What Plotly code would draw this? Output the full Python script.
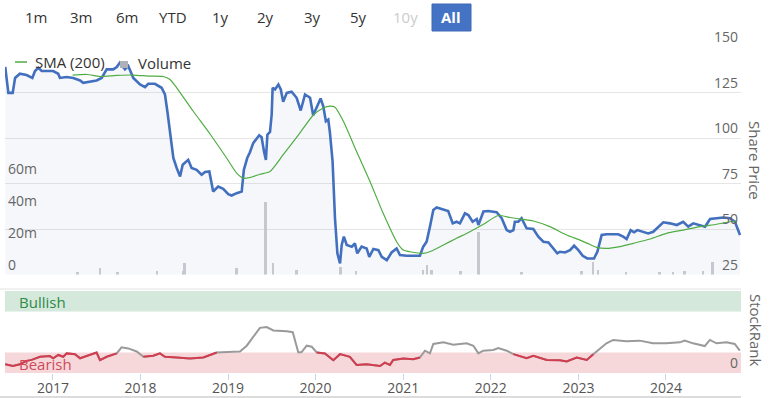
import plotly.graph_objects as go

# ---------------- data ----------------
price_dates = [
    "2016-06-16", "2016-06-29", "2016-07-17", "2016-07-27", "2016-08-16", "2016-09-13", "2016-10-07",
    "2016-10-18", "2016-11-01", "2016-11-15", "2017-01-02", "2017-01-23", "2017-01-30", "2017-02-27",
    "2017-03-27", "2017-04-24", "2017-05-07", "2017-06-04", "2017-07-02", "2017-07-23", "2017-08-13",
    "2017-09-09", "2017-09-24", "2017-10-07", "2017-10-28", "2017-11-11", "2017-12-02", "2017-12-30",
    "2018-01-20", "2018-02-02", "2018-03-02", "2018-03-30", "2018-04-13", "2018-04-23", "2018-05-04",
    "2018-05-18", "2018-06-01", "2018-06-15", "2018-06-26", "2018-07-05", "2018-07-19", "2018-08-02",
    "2018-08-23", "2018-09-13", "2018-09-27", "2018-10-15", "2018-10-31", "2018-11-21", "2018-12-12",
    "2019-01-02", "2019-01-16", "2019-02-06", "2019-02-27", "2019-03-08", "2019-03-22", "2019-04-02",
    "2019-04-16", "2019-05-11", "2019-05-21", "2019-05-31", "2019-06-08", "2019-06-14", "2019-06-25",
    "2019-07-02", "2019-07-06", "2019-07-16", "2019-07-30", "2019-08-09", "2019-08-19", "2019-09-03",
    "2019-09-23", "2019-10-14", "2019-10-31", "2019-11-18", "2019-12-09", "2019-12-22", "2020-01-06",
    "2020-01-22", "2020-02-02", "2020-02-13", "2020-02-23", "2020-03-01", "2020-03-12", "2020-03-22",
    "2020-04-01", "2020-04-12", "2020-04-19", "2020-04-28", "2020-05-10", "2020-05-31", "2020-06-13",
    "2020-06-23", "2020-07-11", "2020-08-01", "2020-08-12", "2020-08-29", "2020-09-19", "2020-10-03",
    "2020-10-24", "2020-11-13", "2020-12-04", "2020-12-18", "2021-01-15", "2021-03-11", "2021-03-25",
    "2021-04-08", "2021-04-22", "2021-05-06", "2021-05-20", "2021-06-17", "2021-07-07", "2021-07-26",
    "2021-08-11", "2021-08-25", "2021-09-15", "2021-09-29", "2021-10-17", "2021-11-03", "2021-11-10",
    "2021-12-01", "2021-12-21", "2022-01-25", "2022-02-15", "2022-03-08", "2022-03-22", "2022-04-05",
    "2022-04-11", "2022-04-25", "2022-05-09", "2022-05-30", "2022-06-27", "2022-07-18", "2022-08-08",
    "2022-08-29", "2022-09-16", "2022-10-05", "2022-10-16", "2022-11-06", "2022-11-27", "2022-12-14",
    "2023-01-01", "2023-01-19", "2023-02-07", "2023-03-07", "2023-03-21", "2023-04-08", "2023-04-29",
    "2023-06-16", "2023-07-07", "2023-07-21", "2023-08-07", "2023-08-21", "2023-09-04", "2023-09-29",
    "2023-10-19", "2023-11-09", "2023-12-04", "2023-12-21", "2024-01-18", "2024-02-15", "2024-03-13",
    "2024-04-03", "2024-04-24", "2024-05-22", "2024-06-12", "2024-07-03", "2024-07-31", "2024-08-27",
    "2024-09-24", "2024-10-15", "2024-10-25", "2024-11-05",
]
price_values = [
    139, 124.8, 124.8, 133, 135.3, 134.6, 133,
    136.8, 138.6, 136.8, 136.8, 135.3, 133, 133.5,
    133, 131.6, 130.3, 130.9, 131.6, 133, 137.7,
    137.7, 139, 141.4, 137.7, 139.5, 133, 129.4,
    127.9, 129.8, 129.8, 127.6, 123.9, 114.7, 103.7,
    89, 83.5, 78.9, 85.3, 86.2, 88, 83.5,
    82.5, 79.8, 81.3, 81.6, 70.6, 73.3, 72.1,
    69.1, 68.4, 69.7, 70.6, 82.5, 89, 92,
    97.2, 101.5, 100.4, 92.6, 88, 101.8, 103.3,
    112.9, 127.6, 126.7, 129.4, 126.7, 119.9, 124.8,
    125.4, 122.1, 115.1, 123.9, 122.1, 112.5, 116.5,
    121.7, 117.5, 109.2, 110.1, 102.8, 87.1, 55.9,
    36.6, 31.1, 41.2, 45.8, 41.2, 40.3, 42.1,
    36.6, 40.3, 39.3, 34.7, 39, 38.4, 34.7,
    32.9, 37.1, 39.3, 35.7, 35.3, 35.3, 40.3,
    43, 51.3, 60.5, 61.8, 60.5, 59.9, 53.1,
    54, 53.1, 58.6, 57.7, 54, 55.5, 52.2,
    59.6, 59.9, 59.2, 55.9, 49.4, 48.5, 49.4,
    54, 54, 55.9, 50.4, 50, 45.8, 43,
    42.6, 39.7, 36.6, 37.5, 37.1, 38.4, 40.8,
    38.4, 35.3, 33.8, 33.8, 37.5, 46.7, 47.1,
    47.1, 45.8, 44.5, 49.4, 48.2, 49.4, 48.5,
    47.6, 48.5, 51.3, 53.7, 53.1, 52.2, 54,
    51.3, 53.1, 52.2, 51.3, 55.5, 55.9, 56.3,
    55.9, 54, 50.4, 46.7,
]

sma_dates = [
    "2017-03-24", "2017-05-22", "2017-07-16", "2017-09-24", "2017-12-02", "2018-02-09", "2018-04-06",
    "2018-05-04", "2018-06-01", "2018-08-09", "2018-10-18", "2018-12-26", "2019-02-06", "2019-03-06",
    "2019-04-02", "2019-05-14", "2019-06-25", "2019-08-19", "2019-10-28", "2019-12-22", "2020-02-02",
    "2020-03-01", "2020-03-22", "2020-04-26", "2020-06-20", "2020-08-15", "2020-10-09", "2020-12-04",
    "2021-01-01", "2021-01-29", "2021-03-25", "2021-04-29", "2021-06-17", "2021-08-11", "2021-10-06",
    "2021-12-01", "2022-02-01", "2022-03-22", "2022-05-03", "2022-06-27", "2022-09-04", "2022-11-13",
    "2023-01-08", "2023-02-18", "2023-03-18", "2023-04-29", "2023-06-23", "2023-08-18", "2023-10-27",
    "2024-01-03", "2024-03-13", "2024-05-22", "2024-07-31", "2024-09-24", "2024-10-22",
]
sma_values = [
    134.6, 134.9, 133.8, 134.4, 134.6, 134, 133.8,
    132.2, 127.6, 114.7, 102.2, 89, 80.7, 77.9,
    78.3, 80.1, 81.6, 90.8, 102.8, 112.5, 116.5,
    117.5, 116.9, 109.2, 92.6, 76.1, 58.6, 43,
    38.4, 37.5, 36.6, 37.9, 41.2, 44.9, 48.5,
    52.6, 57.4, 56.3, 55.5, 54.4, 51.3, 46.7,
    43.9, 41.5, 39.9, 39.3, 40.3, 42.1, 44.5,
    47.6, 49.4, 51.3, 52.6, 54, 54.4,
]

volume_dates = [
    "2017-04-15", "2017-07-16", "2017-09-29", "2018-03-11", "2018-06-28", "2018-07-05", "2019-02-07",
    "2019-06-08", "2019-07-09", "2019-10-14", "2020-04-15", "2020-06-18", "2021-03-24", "2021-04-10",
    "2021-04-30", "2021-08-28", "2021-11-11", "2022-05-09", "2023-01-15", "2023-03-04", "2023-03-25",
    "2023-07-20", "2023-12-07", "2024-02-01", "2024-03-19", "2024-06-04", "2024-07-15",
]
volume_values = [
    1.3e6, 4.4e6, 1.5e6, 2.0e6, 2.5e6, 7.0e6, 4.2e6,
    46e6, 7.0e6, 3.0e6, 5.0e6, 2.0e6, 3.0e6, 6.0e6,
    3.0e6, 2.0e6, 27e6, 1.3e6, 2.5e6, 8.0e6, 3.0e6,
    1.3e6, 1.3e6, 1.3e6, 2.0e6, 2.0e6, 8.0e6,
]

rank_dates = [
    "2016-06-16", "2016-07-18", "2016-08-16", "2016-09-13", "2016-10-04", "2016-11-08", "2016-12-19",
    "2017-01-02", "2017-01-23", "2017-02-13", "2017-02-27", "2017-04-03", "2017-04-24", "2017-05-22",
    "2017-07-02", "2017-07-16", "2017-08-13", "2017-09-24", "2017-10-14", "2017-11-11", "2017-12-16",
    "2018-01-13", "2018-02-23", "2018-03-23", "2018-04-13", "2018-06-01", "2018-07-26", "2018-09-20",
    "2018-11-15", "2019-01-23", "2019-02-20", "2019-03-20", "2019-04-16", "2019-05-14", "2019-06-11",
    "2019-07-09", "2019-09-03", "2019-09-28", "2019-10-21", "2019-11-04", "2019-11-25", "2019-12-16",
    "2020-01-06", "2020-02-09", "2020-03-15", "2020-04-12", "2020-05-23", "2020-06-20", "2020-08-01",
    "2020-09-26", "2020-10-16", "2020-11-06", "2020-11-20", "2021-01-01", "2021-02-11", "2021-03-11",
    "2021-04-01", "2021-04-22", "2021-05-06", "2021-06-17", "2021-07-28", "2021-09-22", "2021-10-20",
    "2021-11-10", "2021-11-30", "2022-01-11", "2022-02-01", "2022-03-08", "2022-04-05", "2022-05-30",
    "2022-06-27", "2022-08-22", "2022-10-16", "2022-11-13", "2022-12-25", "2023-02-05", "2023-03-04",
    "2023-03-31", "2023-04-28", "2023-05-26", "2023-07-20", "2023-09-14", "2023-11-08", "2024-01-03",
    "2024-02-28", "2024-03-19", "2024-04-23", "2024-06-11", "2024-07-02", "2024-07-30", "2024-09-09",
    "2024-10-14", "2024-11-04",
]
rank_values = [
    10.7, 8.6, 10.7, 14.8, 16, 19.8, 20.6,
    18, 22, 19.8, 23.9, 23, 18, 20.6,
    25, 15.6, 19.8, 23.9, 31.3, 30, 26.3,
    19.8, 21, 23.9, 19.8, 18.9, 17.7, 18.9,
    25, 25.9, 26.3, 33.3, 43.6, 55.1, 56,
    51.9, 51, 49.8, 25, 25.5, 33.3, 32,
    25, 23.9, 15.6, 23, 19.8, 9.9, 10.7,
    8.6, 12.7, 9.9, 16, 17.7, 16.9, 18.9,
    27.2, 23.9, 35.4, 37.4, 34.6, 36.2, 33.3,
    23.9, 27.2, 28, 30.5, 27.2, 23, 18,
    21, 16, 15.6, 14, 18.9, 16, 23,
    29.2, 36.2, 40.3, 38.7, 39.5, 36.2, 36.2,
    37.4, 39.5, 36.2, 32.9, 40.3, 36.2, 37.4,
    35.4, 27.2,
]

price_ticks = [25, 50, 75, 100, 125, 150]
volume_ticks = [0, 20e6, 40e6, 60e6]
volume_tick_labels = ["0", "20m", "40m", "60m"]
range_buttons = ["1m", "3m", "6m", "YTD", "1y", "2y", "3y", "5y", "10y", "All"]
bearish_limit = 25
bullish_limit = 75

# ---------------- styling ----------------
FONT = "Open Sans"
BLUE = "#4270bf"
GREEN = "#50ad44"
RED = "#d23c4e"
GREY = "#9a9a9a"
TXT = "#333333"
AXT = "#666666"

W, H = 769, 398
ML, MR, MT, MB = 5, 28, 47, 25
PW, PH = W - ML - MR, H - MT - MB


def px(x):
    return (x - ML) / PW


def py(y):
    return (H - MB - y) / PH


fig = go.Figure()

# price (top panel)
fig.add_trace(go.Scatter(
    x=price_dates, y=price_values, xaxis="x2", yaxis="y",
    mode="lines", line=dict(color=BLUE, width=2.6),
    fill="tozeroy", fillcolor="rgba(66,112,191,0.055)",
    hoverinfo="skip", showlegend=False,
))
fig.add_trace(go.Scatter(
    x=sma_dates, y=sma_values, xaxis="x2", yaxis="y",
    mode="lines", line=dict(color=GREEN, width=1.2, shape="spline", smoothing=0.6),
    hoverinfo="skip", showlegend=False,
))
# volume (top panel, own axis)
fig.add_trace(go.Bar(
    x=volume_dates, y=volume_values, xaxis="x2", yaxis="y3",
    marker=dict(color="#c6c7cf", line=dict(width=0)),
    width=[8 * 86400000] * len(volume_dates),
    hoverinfo="skip", showlegend=False,
))

# StockRank (bottom panel)
fig.add_trace(go.Scatter(
    x=rank_dates, y=rank_values, xaxis="x", yaxis="y2",
    mode="lines", line=dict(color=GREY, width=2),
    hoverinfo="skip", showlegend=False,
))
rank_red = [v if v <= bearish_limit + 0.2 else None for v in rank_values]
fig.add_trace(go.Scatter(
    x=rank_dates, y=rank_red, xaxis="x", yaxis="y2",
    mode="lines", line=dict(color=RED, width=2), connectgaps=False,
    hoverinfo="skip", showlegend=False,
))

rank_top = 102.5
dom_top = [py(274.5), 1.0]
dom_bot = [0.0, py(289)]

shapes = [
    # bullish / bearish bands
    dict(type="rect", xref="x", yref="y2", x0="2016-06-15", x1="2024-11-09",
         y0=bullish_limit, y1=100, fillcolor="#d4e8dc", line=dict(width=0), layer="below"),
    dict(type="rect", xref="x", yref="y2", x0="2016-06-15", x1="2024-11-09",
         y0=0, y1=bearish_limit, fillcolor="#f6d8db", line=dict(width=0), layer="below"),
    # separator lines
    dict(type="line", xref="paper", yref="paper", x0=px(0), x1=1, y0=py(289), y1=py(289),
         line=dict(color="#e3e3e3", width=1)),
    dict(type="line", xref="paper", yref="paper", x0=px(0), x1=1, y0=py(397), y1=py(397),
         line=dict(color="#dcdcdc", width=2)),
    # legend symbols
    dict(type="line", xref="paper", yref="paper", x0=px(15), x1=px(27), y0=py(62), y1=py(62),
         line=dict(color=GREEN, width=1.5)),
    dict(type="rect", xref="paper", yref="paper", x0=px(120), x1=px(128), y0=py(61), y1=py(68),
         fillcolor="#b0b0b8", line=dict(width=0)),
    # active range button
    dict(type="rect", xref="paper", yref="paper", x0=px(432), x1=px(471), y0=py(4), y1=py(31),
         fillcolor="#4472c4", line=dict(color="#3f69b5", width=1)),
]

annotations = [
    dict(text="SMA (200)", x=px(33), y=py(62), xanchor="left", yanchor="middle",
         font=dict(size=15, color=TXT, family=FONT)),
    dict(text="Volume", x=px(136), y=py(63), xanchor="left", yanchor="middle",
         font=dict(size=15, color=TXT, family=FONT)),
    dict(text="Share Price", x=px(755), y=py(160), textangle=90, xanchor="center", yanchor="middle",
         font=dict(size=15, color=AXT, family=FONT)),
    dict(text="StockRank", x=px(756), y=py(330), textangle=90, xanchor="center", yanchor="middle",
         font=dict(size=15, color=AXT, family=FONT)),
    dict(text="Bullish", x=px(17), y=py(302), xanchor="left", yanchor="middle",
         font=dict(size=15, color="#2f8a45", family=FONT)),
    dict(text="Bearish", x=px(17), y=py(364), xanchor="left", yanchor="middle",
         font=dict(size=15, color="#d04a5a", family=FONT)),
]
button_x = [36, 81, 127, 173, 220, 265, 312, 358, 405, 451]
for label, bx in zip(range_buttons, button_x):
    if label == "All":
        f = dict(size=15, color="white", family=FONT, weight="bold")
    elif label == "10y":
        f = dict(size=15, color="#cccccc", family=FONT)
    else:
        f = dict(size=15, color=TXT, family=FONT)
    annotations.append(dict(text=label, x=px(bx), y=py(17), xanchor="center", yanchor="middle", font=f))

for a in annotations:
    a.update(xref="paper", yref="paper", showarrow=False)

fig.update_layout(
    width=W, height=H,
    autosize=False,
    margin=dict(l=ML, r=MR, t=MT, b=MB, pad=0, autoexpand=False),
    paper_bgcolor="white", plot_bgcolor="white",
    font=dict(family=FONT, color=AXT, size=14),
    showlegend=False,
    bargap=0,
    xaxis=dict(
        domain=[0, 1], anchor="y2", type="date", automargin=False,
        range=["2016-06-15", "2024-11-09"],
        tick0="2017-01-01", dtick="M12", tickformat="%Y",
        ticks="outside", ticklen=6, tickcolor="#ccd6eb", tickwidth=1,
        ticklabelstandoff=-4,
        tickfont=dict(size=14, color="#555555", family=FONT),
        showgrid=False, zeroline=False, showline=False, fixedrange=True,
    ),
    xaxis2=dict(
        domain=[0, 1], anchor="y", matches="x", type="date", automargin=False,
        showticklabels=False, ticks="", showgrid=False, zeroline=False, showline=False,
    ),
    yaxis=dict(
        domain=dom_top, anchor="x2", side="right", range=[25, 150], automargin=False,
        tickvals=price_ticks, ticklabelposition="inside top", ticklabeloverflow="allow",
        tickfont=dict(size=14, color=AXT, family=FONT),
        showgrid=True, gridcolor="#e6e6e6", gridwidth=1,
        zeroline=False, showline=False, ticks="",
    ),
    yaxis3=dict(
        overlaying="y", anchor="x2", side="left", range=[0, 143.5e6], automargin=False,
        tickvals=volume_ticks, ticktext=volume_tick_labels,
        ticklabelposition="inside top", ticklabeloverflow="allow",
        tickfont=dict(size=14, color=AXT, family=FONT),
        showgrid=False, zeroline=False, showline=False, ticks="",
    ),
    yaxis2=dict(
        domain=dom_bot, anchor="x", side="right", range=[0, rank_top], automargin=False,
        tickvals=[0], ticktext=["0"], ticklabelposition="inside top", ticklabeloverflow="allow",
        tickfont=dict(size=14, color=AXT, family=FONT),
        showgrid=False, zeroline=False, showline=False, ticks="",
    ),
    shapes=shapes,
    annotations=annotations,
)

fig.write_html(
    "out.html",
    config={"displayModeBar": False},
    post_script="document.body.style.margin='0px';document.body.style.overflow='hidden';",
)
